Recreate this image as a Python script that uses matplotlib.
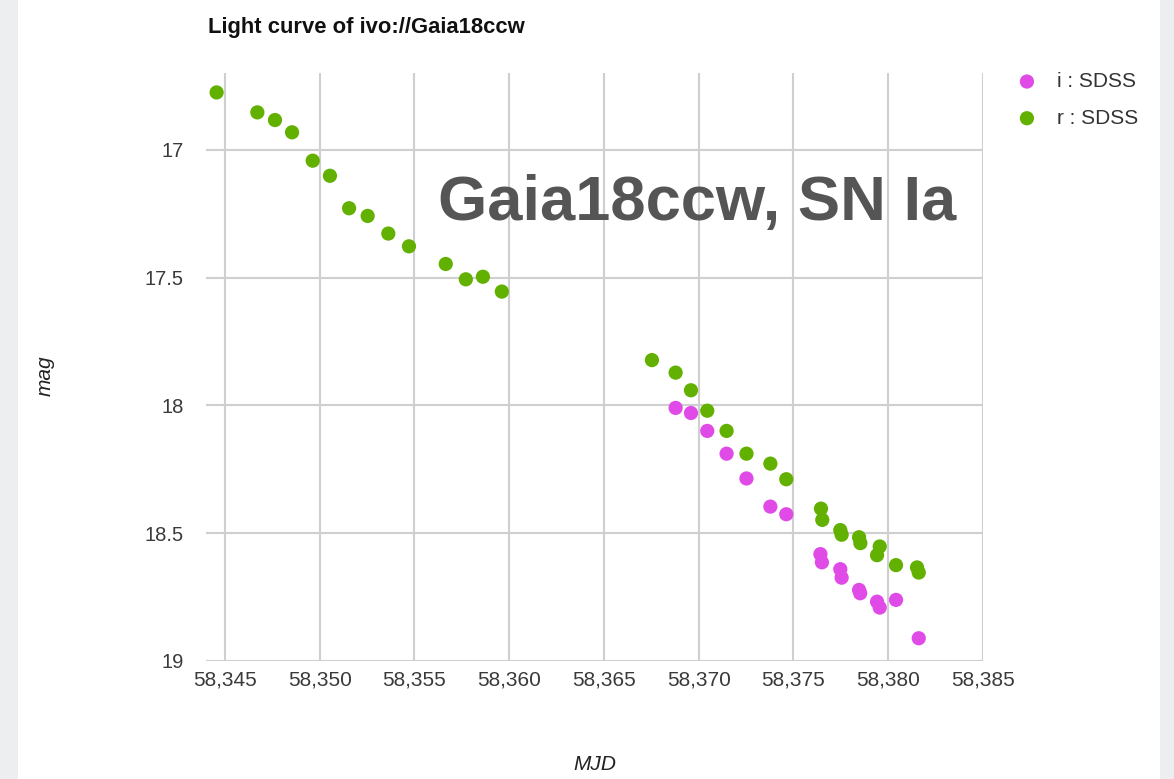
import matplotlib
matplotlib.use("Agg")
import matplotlib.pyplot as plt
from matplotlib.ticker import FuncFormatter
from matplotlib.patches import Rectangle

# ---- data ----
r_mjd = [58344.56, 58346.71, 58347.64, 58348.54, 58349.63, 58350.54, 58351.55,
         58352.53, 58353.62, 58354.71, 58356.65, 58357.71, 58358.61, 58359.61,
         58367.53, 58368.78, 58369.59, 58370.45, 58371.47, 58372.52, 58373.78,
         58374.62, 58376.45, 58376.52, 58377.47, 58377.54, 58378.46, 58378.53,
         58379.55, 58379.41, 58380.41, 58381.52, 58381.61]
r_mag = [16.776, 16.854, 16.884, 16.932, 17.043, 17.102, 17.229,
         17.259, 17.328, 17.378, 17.447, 17.507, 17.497, 17.555,
         17.823, 17.872, 17.941, 18.021, 18.100, 18.189, 18.228,
         18.289, 18.404, 18.448, 18.488, 18.506, 18.516, 18.539,
         18.552, 18.586, 18.625, 18.634, 18.654]

i_mjd = [58368.78, 58369.59, 58370.45, 58371.47, 58372.52, 58373.78, 58374.62,
         58376.42, 58376.50, 58377.47, 58377.54, 58378.46, 58378.52, 58379.41,
         58379.55, 58380.41, 58381.61]
i_mag = [18.010, 18.030, 18.100, 18.189, 18.286, 18.396, 18.426,
         18.582, 18.614, 18.641, 18.674, 18.722, 18.735, 18.768,
         18.791, 18.761, 18.911]

x_ticks = [58345, 58350, 58355, 58360, 58365, 58370, 58375, 58380, 58385]
y_ticks = [17, 17.5, 18, 18.5, 19]
labels = ["i : SDSS", "r : SDSS"]

title = "Light curve of ivo://Gaia18ccw"
annotation = "Gaia18ccw, SN Ia"

# ---- styling ----
plt.rcParams['font.family'] = ['Liberation Sans', 'DejaVu Sans']
c_i = '#e04be8'
c_r = '#62b000'
W, H = 1174, 779
fig = plt.figure(figsize=(W / 100, H / 100), dpi=100)
fig.patch.set_facecolor('#eceef0')
fig.patches.append(Rectangle((18 / W, 0), (1160 - 18) / W, 1, transform=fig.transFigure,
                             facecolor='white', edgecolor='none', zorder=-10))

ax = fig.add_axes([206 / W, 1 - 661 / H, (983 - 206) / W, (661 - 73) / H])
ax.set_zorder(2)
ax.set_facecolor('white')
ax.scatter(i_mjd, i_mag, s=105, color=c_i, edgecolors='none', zorder=3, label=labels[0])
ax.scatter(r_mjd, r_mag, s=105, color=c_r, edgecolors='none', zorder=3, label=labels[1])

ax.set_xlim(58344.0, 58385.0)
ax.set_ylim(19.0, 16.7)
ax.set_xticks(x_ticks)
ax.set_yticks(y_ticks)
ax.xaxis.set_major_formatter(FuncFormatter(lambda v, p: f"{int(round(v)):,}"))
ax.yaxis.set_major_formatter(FuncFormatter(lambda v, p: f"{v:g}"))
ax.grid(True, color='#cfcfcf', linewidth=1.5, zorder=0)
for s in ax.spines.values():
    s.set_visible(False)
ax.tick_params(length=0, colors='#3a3a3a')
ax.tick_params(axis='x', pad=6.5, labelsize=15)
ax.tick_params(axis='y', pad=16, labelsize=14.5)

fig.text(208 / W, 1 - 28 / H, title, fontsize=15.8, fontweight='bold', color='#111111',
         ha='left', va='center')
fig.text(697 / W, 1 - 204 / H, annotation, fontsize=45.5, fontweight='bold', color='#555555',
         ha='center', va='center')
fig.text(45 / W, 1 - 376 / H, "mag", fontsize=15, style='italic', color='#222222',
         rotation=90, ha='center', va='center')
fig.text(595 / W, 1 - 765 / H, "MJD", fontsize=15, style='italic', color='#222222',
         ha='center', va='center')

leg = ax.legend(loc='upper left', bbox_to_anchor=(1016.5 / W, 1 - 72 / H),
                bbox_transform=fig.transFigure, frameon=False,
                fontsize=15, handlelength=1.0, handletextpad=0.93, labelspacing=0.85,
                borderpad=0, borderaxespad=0)
for t in leg.get_texts():
    t.set_color('#333333')

fig.savefig("out.png", dpi=100, facecolor=fig.get_facecolor())
